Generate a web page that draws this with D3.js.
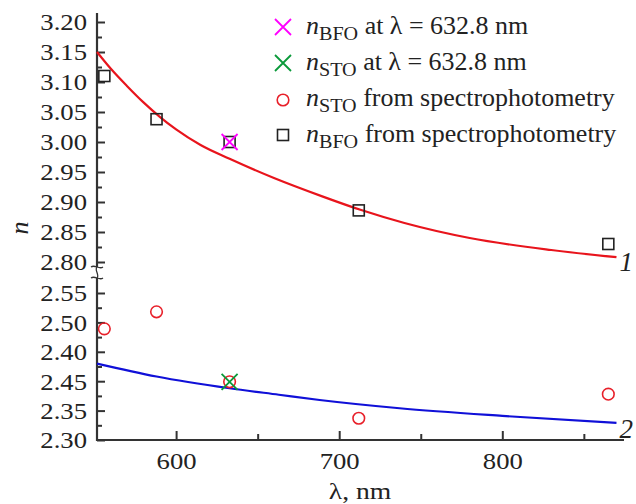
<!DOCTYPE html>
<html>
<head>
<meta charset="utf-8">
<title>n vs lambda</title>
<script src="https://cdn.jsdelivr.net/npm/d3@7"></script>
<style>
  body { margin: 0; background: #fff; }
  text { font-family: "Liberation Serif", "Times New Roman", "DejaVu Serif", serif; fill: #222; }
</style>
</head>
<body>
<svg id="chart" width="636" height="504"></svg>
<script>
var serif = "'Liberation Serif', 'Times New Roman', 'DejaVu Serif', serif";

// fitted curves
var curve1Lam = [551.5, 560, 570, 580, 590, 600, 615, 632.8, 660, 690, 713, 740, 780, 830, 870];
var curve1N   = [3.150, 3.122, 3.093, 3.066, 3.042, 3.021, 2.995, 2.972, 2.940, 2.909, 2.887, 2.865, 2.840, 2.820, 2.808];
var curve2Lam = [551.5, 588, 632.8, 663, 688, 737, 800, 870];
var curve2N   = [2.430, 2.408, 2.388, 2.377, 2.368, 2.354, 2.341, 2.329];

// measured points
var bfoLam = [556, 588, 632.8, 712, 865];
var bfoN   = [3.11, 3.038, 3.00, 2.886, 2.83];
var stoLam = [556, 588, 632.8, 712, 865];
var stoN   = [2.489, 2.518, 2.399, 2.337, 2.378];
var bfoLaser = [[632.8, 3.00]];
var stoLaser = [[632.8, 2.399]];

// ticks
var xTicks = [600, 700, 800];
var xMinor = [650, 750, 850];
var xTickLabels = ["600", "700", "800"];
var upTicks = [2.80, 2.85, 2.90, 2.95, 3.00, 3.05, 3.10, 3.15, 3.20];
var upLabels = ["2.80", "2.85", "2.90", "2.95", "3.00", "3.05", "3.10", "3.15", "3.20"];
var loTicks = [2.30, 2.35, 2.40, 2.45, 2.50, 2.55];
var loLabels = ["2.30", "2.35", "2.45", "2.40", "2.50", "2.55"];

var svg = d3.select("#chart");
var axisColor = "#333";
var sx = 1.16;   // glyphs in the figure are a bit wider than plain Times

var x = d3.scaleLinear().domain([551.5, 874]).range([97, 623]);
var yUp = d3.scaleLinear().domain([2.80, 3.20]).range([262, 22]);
var yLo = d3.scaleLinear().domain([2.30, 2.55]).range([440, 293]);

function minorOf(t) {
  var m = [];
  for (var i = 0; i < t.length - 1; i++) m.push((t[i] + t[i + 1]) / 2);
  return m;
}

function stretch(sel) {
  sel.each(function () {
    var t = d3.select(this);
    var x0 = +t.attr("x") || 0;
    t.attr("x", x0 / sx).attr("transform", "scale(" + sx + ",1)");
  });
}

// y axes (ticks inside)
function yAxis(scale, ticks, labels) {
  var g = svg.append("g").attr("transform", "translate(97,0)");
  g.call(d3.axisLeft(scale).tickValues(ticks)
      .tickFormat(function (d, i) { return labels[i]; })
      .tickSizeInner(-8).tickSizeOuter(0).tickPadding(10));
  g.append("g").call(d3.axisLeft(scale).tickValues(minorOf(ticks))
      .tickFormat("").tickSizeInner(-5).tickSizeOuter(0));
  g.selectAll(".domain").remove();
  g.selectAll("line").attr("stroke", axisColor).attr("stroke-width", 2);
  g.selectAll("text").attr("font-size", 23).attr("fill", "#222").attr("font-family", serif)
    .attr("dy", "0.34em").call(stretch);
  return g;
}
yAxis(yUp, upTicks, upLabels);
yAxis(yLo, loTicks, loLabels);

// x axis
var gx = svg.append("g").attr("transform", "translate(0,440)");
gx.call(d3.axisBottom(x).tickValues(xTicks)
    .tickFormat(function (d, i) { return xTickLabels[i]; })
    .tickSizeInner(-9).tickSizeOuter(0).tickPadding(13));
gx.append("g").call(d3.axisBottom(x).tickValues(xMinor).tickFormat("")
    .tickSizeInner(-6).tickSizeOuter(0));
gx.selectAll(".domain").remove();
gx.selectAll("line").attr("stroke", axisColor).attr("stroke-width", 2);
gx.selectAll("text").attr("font-size", 23).attr("fill", "#222").attr("font-family", serif)
  .call(stretch);

// axis lines with break
svg.append("line").attr("x1", 97).attr("x2", 97).attr("y1", 13).attr("y2", 267)
  .attr("stroke", axisColor).attr("stroke-width", 2.2);
svg.append("line").attr("x1", 97).attr("x2", 97).attr("y1", 278).attr("y2", 441)
  .attr("stroke", axisColor).attr("stroke-width", 2.2);
svg.append("line").attr("x1", 96).attr("x2", 624).attr("y1", 440).attr("y2", 440)
  .attr("stroke", axisColor).attr("stroke-width", 2.2);
svg.append("path").attr("d", "M91,267 C95,264 99,270 103,267 M91,278 C95,275 99,281 103,278")
  .attr("fill", "none").attr("stroke", axisColor).attr("stroke-width", 1.3);
svg.append("path").attr("d", "M97,267 C94,270 100,275 97,278")
  .attr("fill", "none").attr("stroke", axisColor).attr("stroke-width", 1.3);

// curves
var line1 = d3.line().x(function (d, i) { return x(curve1Lam[i]); })
  .y(function (d) { return yUp(d); }).curve(d3.curveMonotoneX);
var line2 = d3.line().x(function (d, i) { return x(curve2Lam[i]); })
  .y(function (d) { return yLo(d); }).curve(d3.curveMonotoneX);
svg.append("path").datum(curve1N).attr("d", line1)
  .attr("fill", "none").attr("stroke", "#e8141c").attr("stroke-width", 2.2);
svg.append("path").datum(curve2N).attr("d", line2)
  .attr("fill", "none").attr("stroke", "#1010d8").attr("stroke-width", 2.2);

svg.append("text").attr("x", x(870) + 3).attr("y", yUp(2.808) + 14)
  .attr("font-family", serif).attr("font-size", 27).attr("font-style", "italic").text("1");
svg.append("text").attr("x", x(870) + 3).attr("y", yLo(2.329) + 15)
  .attr("font-family", serif).attr("font-size", 27).attr("font-style", "italic").text("2");

// markers
function square(g, cx, cy) {
  g.append("rect").attr("x", cx - 5.5).attr("y", cy - 5.5).attr("width", 11).attr("height", 11)
    .attr("fill", "none").attr("stroke", "#222").attr("stroke-width", 1.6);
}
function circle(g, cx, cy) {
  g.append("circle").attr("cx", cx).attr("cy", cy).attr("r", 5.8)
    .attr("fill", "none").attr("stroke", "#e8202a").attr("stroke-width", 1.6);
}
function cross(g, cx, cy, col) {
  g.append("path").attr("d", "M" + (cx - 8) + "," + (cy - 8) + "L" + (cx + 8) + "," + (cy + 8) +
      "M" + (cx - 8) + "," + (cy + 8) + "L" + (cx + 8) + "," + (cy - 8))
    .attr("stroke", col).attr("stroke-width", 1.8).attr("fill", "none");
}
var gm = svg.append("g");
bfoN.forEach(function (d, i) { square(gm, x(bfoLam[i]), yUp(d)); });
stoN.forEach(function (d, i) { circle(gm, x(stoLam[i]), yLo(d)); });
bfoLaser.forEach(function (d) { cross(gm, x(d[0]), yUp(d[1]), "#ff00ff"); });
stoLaser.forEach(function (d) { cross(gm, x(d[0]), yLo(d[1]), "#0a9a3a"); });

// legend
var legend = [
  { sub: "BFO", rest: " at \u03bb = 632.8 nm", kind: "x", col: "#ff00ff" },
  { sub: "STO", rest: " at \u03bb = 632.8 nm", kind: "x", col: "#0a9a3a" },
  { sub: "STO", rest: " from spectrophotometry", kind: "o" },
  { sub: "BFO", rest: " from spectrophotometry", kind: "s" }
];
legend.forEach(function (d, i) {
  var cy = 27 + i * 36;
  if (d.kind === "x") cross(svg, 283, cy, d.col);
  else if (d.kind === "o") circle(svg, 283, cy + 1);
  else square(svg, 283, cy);
  var t = svg.append("text")
    .attr("transform", "translate(306," + (cy + 7) + ") scale(1.06,1)")
    .attr("font-family", serif).attr("font-size", 24.5);
  t.append("tspan").attr("font-style", "italic").text("n");
  t.append("tspan").attr("dy", 6).attr("font-size", 19).text(d.sub);
  t.append("tspan").attr("dy", -6).text(d.rest);
});

// axis titles
svg.append("text").attr("transform", "translate(28,228) rotate(-90)")
  .attr("text-anchor", "middle").attr("font-family", serif).attr("font-size", 26)
  .attr("font-style", "italic").text("n");
svg.append("text").attr("transform", "translate(360,499) scale(1.15,1)")
  .attr("text-anchor", "middle")
  .attr("font-family", serif).attr("font-size", 24).text("\u03bb, nm");
</script>
</body>
</html>
